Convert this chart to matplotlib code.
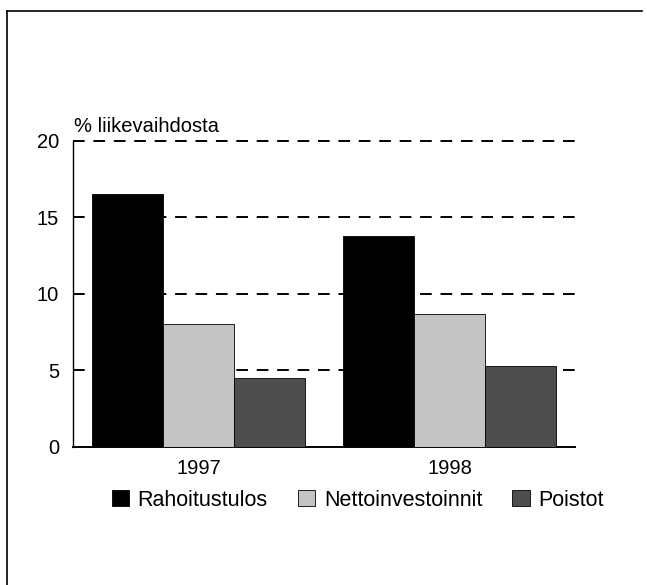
import matplotlib
matplotlib.use('Agg')
import matplotlib.pyplot as plt
import numpy as np

years = ['1997', '1998']
series = ['Rahoitustulos', 'Nettoinvestoinnit', 'Poistot']
rahoitustulos = [16.5, 13.8]
nettoinvestoinnit = [8.0, 8.7]
poistot = [4.5, 5.3]
colors = ['#000000', '#c4c4c4', '#4e4e4e']

plt.rcParams['font.family'] = ['Liberation Sans', 'DejaVu Sans']

def main():
    fig = plt.figure(figsize=(6.47, 5.85), dpi=100)
    ax = fig.add_axes([0.1128, 0.2364, 0.7759, 0.5227])

    x = np.arange(len(years))
    width = 0.283
    values = [rahoitustulos, nettoinvestoinnit, poistot]
    for i in range(len(series)):
        ax.bar(x + (i - 1) * width, values[i], width, color=colors[i],
               edgecolor='black', linewidth=0.6, label=series[i], zorder=3)

    for yv in [5, 10, 15, 20]:
        ax.axhline(yv, color='black', linewidth=1.4, linestyle=(0, (6, 4.5)),
                   zorder=1, clip_on=False)

    ax.set_xlim(-0.5, 1.5)
    ax.set_ylim(0, 20)
    ax.set_yticks([0, 5, 10, 15, 20])
    ax.set_xticks(x)
    ax.set_xticklabels(years)
    ax.tick_params(length=0, labelsize=14.5)
    ax.tick_params(axis='x', pad=9)
    ax.tick_params(axis='y', pad=10)
    for s in ['top', 'right']:
        ax.spines[s].set_visible(False)
    ax.spines['left'].set_linewidth(1.0)
    ax.spines['bottom'].set_linewidth(1.4)

    fig.text(0.115, 0.774, '% liikevaihdosta', fontsize=14.5, va='baseline', ha='left')

    fig.legend(loc='center', bbox_to_anchor=(0.553, 0.145), ncol=3, frameon=False,
               fontsize=15.5, handlelength=0.8, handleheight=0.8, handletextpad=0.4,
               columnspacing=1.4)

    # frame around the chart (top and left edges)
    fig.add_artist(plt.Line2D([0.011, 0.993], [0.981, 0.981], color='black', linewidth=1.2))
    fig.add_artist(plt.Line2D([0.011, 0.011], [0.0, 0.981], color='black', linewidth=1.2))

    fig.savefig('out.png', dpi=100)

if __name__ == "__main__":
    main()
